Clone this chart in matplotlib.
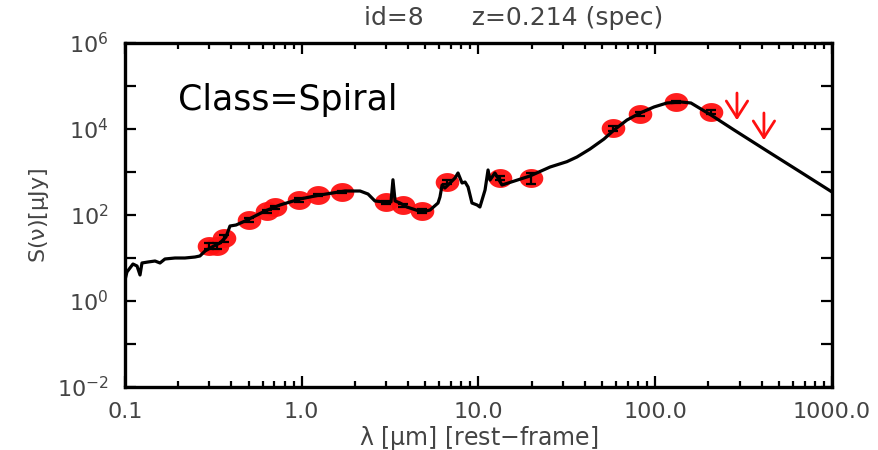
import numpy as np
import matplotlib
matplotlib.use("Agg")
import matplotlib.pyplot as plt
from matplotlib.path import Path
from matplotlib.ticker import LogLocator, FixedLocator, NullFormatter, FixedFormatter

# ---------------- data ----------------
# model SED (rest-frame wavelength in micron, flux in microJy)
model_logwave = [-1.000, -0.989, -0.972, -0.955, -0.932, -0.915, -0.904, -0.870, -0.830,
                 -0.802, -0.774, -0.717, -0.661, -0.604, -0.576, -0.547, -0.508, -0.463,
                 -0.429, -0.406, -0.372, -0.321, -0.264, -0.208, -0.123, -0.010, 0.103,
                 0.245, 0.330, 0.375, 0.414, 0.471, 0.505, 0.516, 0.528, 0.556, 0.595,
                 0.629, 0.680, 0.726, 0.771, 0.782, 0.794, 0.810, 0.839, 0.867, 0.884,
                 0.907, 0.924, 0.941, 0.963, 0.992, 1.008, 1.020, 1.037, 1.054, 1.065,
                 1.093, 1.133, 1.291, 1.405, 1.500, 1.557, 1.631, 1.710, 1.767, 1.840, 1.914,
                 1.993, 2.066, 2.146, 2.202, 2.315, 2.446, 2.632, 2.825, 3.000]
model_logflux = [0.488, 0.674, 0.767, 0.860, 0.814, 0.605, 0.884, 0.907, 0.930,
                 0.884, 0.977, 1.000, 1.000, 1.023, 1.047, 1.163, 1.256, 1.349,
                 1.488, 1.744, 1.767, 1.860, 1.977, 2.093, 2.233, 2.372, 2.465,
                 2.558, 2.558, 2.488, 2.326, 2.302, 2.302, 2.820, 2.326, 2.279, 2.186,
                 2.140, 2.070, 2.116, 2.279, 2.419, 2.698, 2.628, 2.744, 2.860, 2.977,
                 2.744, 2.767, 2.651, 2.279, 2.233, 2.186, 2.349, 2.581, 3.047, 2.814,
                 2.977, 2.698, 2.907, 3.116, 3.240, 3.349, 3.535, 3.767, 3.977, 4.209, 4.372,
                 4.512, 4.605, 4.628, 4.605, 4.326, 3.977, 3.491, 2.991, 2.535]

# photometry
phot_wave = [0.30, 0.33, 0.363, 0.50, 0.64, 0.71, 0.97, 1.24, 1.69, 3.0, 3.74, 4.79,
             6.64, 13.2, 19.8, 57.7, 82.0, 131.0, 206.0]
phot_flux = [19, 19, 29, 77, 124, 153, 224, 292, 343, 200, 170, 124,
             585, 725, 725, 10500, 22400, 42400, 24800]
phot_err = [3, 3, 5, 7, 10, 12, 18, 22, 25, 15, 14, 12,
            50, 90, 210, 1500, 1800, 2500, 2500]

# upper limits
ul_wave = [290.0, 412.0]
ul_flux = [68700.0, 23600.0]

title_text = "id=8      z=0.214 (spec)"
class_text = "Class=Spiral"
xtick_vals = [0.1, 1.0, 10.0, 100.0, 1000.0]
xtick_labels = ["0.1", "1.0", "10.0", "100.0", "1000.0"]
ytick_vals = [1e-2, 1e0, 1e2, 1e4, 1e6]
ytick_labels = [r"10$^{-2}$", r"10$^{0}$", r"10$^{2}$", r"10$^{4}$", r"10$^{6}$"]

# ---------------- plot ----------------
plt.rcParams['font.family'] = ['DejaVu Sans']
plt.rcParams['mathtext.default'] = 'regular'

fig = plt.figure(figsize=(8.79, 4.5), dpi=100)
ax = fig.add_axes([125/879, 1-387/450, (832-125)/879, (387-43)/450])

mw = 10 ** np.array(model_logwave)
mf = 10 ** np.array(model_logflux)

# ellipse marker
t = np.linspace(0, 2*np.pi, 60)
ell = Path(np.column_stack([np.cos(t), 0.8*np.sin(t)]), closed=True)

ax.plot(phot_wave, phot_flux, linestyle='none', marker=ell, markersize=17,
        markerfacecolor='#ff1010', markeredgecolor='none', alpha=0.95, zorder=2)
ax.plot(mw, mf, color='black', lw=2.3, zorder=3)
ax.errorbar(phot_wave, phot_flux, yerr=phot_err, fmt='none', ecolor='black',
            elinewidth=1.6, capsize=3.5, capthick=1.6, zorder=4)

for w, f in zip(ul_wave, ul_flux):
    ax.annotate('', xy=(w, f / 4.3), xytext=(w, f),
                arrowprops=dict(arrowstyle='->, head_length=0.5, head_width=0.32',
                                color='#ff1010', lw=2.0, mutation_scale=24,
                                shrinkA=0, shrinkB=0), zorder=5)

ax.set_xscale('log')
ax.set_yscale('log')
ax.set_xlim(0.1, 1000)
ax.set_ylim(1e-2, 1e6)

ax.xaxis.set_major_locator(FixedLocator(xtick_vals))
ax.xaxis.set_major_formatter(FixedFormatter(xtick_labels))
ax.xaxis.set_minor_locator(LogLocator(base=10, subs=np.arange(2, 10)))
ax.xaxis.set_minor_formatter(NullFormatter())
ax.yaxis.set_major_locator(FixedLocator(ytick_vals))
ax.yaxis.set_major_formatter(FixedFormatter(ytick_labels))
ax.yaxis.set_minor_locator(FixedLocator([1e-1, 1e1, 1e3, 1e5]))
ax.yaxis.set_minor_formatter(NullFormatter())

ax.tick_params(which='both', direction='in', top=True, right=True, width=1.6,
               colors='black', labelcolor='#444444', labelsize=16)
ax.tick_params(axis='x', which='both', pad=11)
ax.tick_params(axis='y', which='both', pad=12)
ax.tick_params(which='major', length=8)
ax.tick_params(axis='x', which='minor', length=4)
ax.tick_params(axis='y', which='minor', length=8)
for s in ax.spines.values():
    s.set_linewidth(2.4)

ax.set_xlabel('λ [$\\mu$m] [rest−frame]', fontsize=17, color='#444444', labelpad=1)
ax.set_ylabel('S($\\nu$)[$\\mu$Jy]', fontsize=16, color='#444444', labelpad=4)
ax.set_title(title_text, fontsize=18, color='#444444', pad=13, x=0.55)
ax.text(0.075, 0.835, class_text, transform=ax.transAxes, fontsize=25, color='black',
        va='center', ha='left')

fig.savefig('out.png', dpi=100, facecolor='white')
